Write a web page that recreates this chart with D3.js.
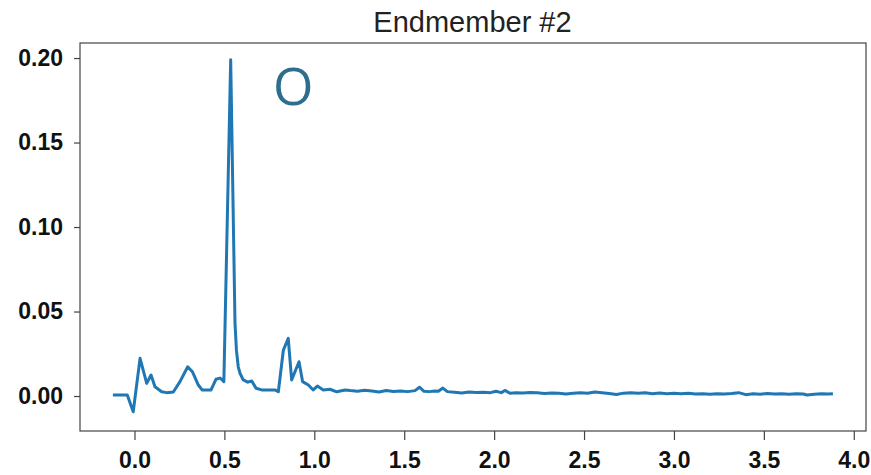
<!DOCTYPE html>
<html>
<head>
<meta charset="utf-8">
<script src="https://cdn.jsdelivr.net/npm/d3@7"></script>
<style>
  body { margin: 0; background: #fff; overflow: hidden; }
  svg { display: block; }
  .axis text { font-family: "Liberation Sans", Arial, sans-serif; font-weight: bold; font-size: 23px; fill: #111; }
  .axis path, .axis line { stroke: #444; stroke-width: 1.2px; }
</style>
</head>
<body>
<div id="chart"></div>
<script>
// spectrum (x = energy, y = intensity)
const energy = [
  -0.12, -0.04, -0.007, 0.031, 0.068, 0.092, 0.114, 0.151, 0.179, 0.216,
  0.253, 0.296, 0.322, 0.355, 0.377, 0.425, 0.453, 0.476, 0.488, 0.497,
  0.535, 0.559, 0.567, 0.577, 0.587, 0.605, 0.630, 0.652, 0.676, 0.707,
  0.781, 0.800, 0.828, 0.855, 0.874, 0.915, 0.935, 0.967, 0.994, 1.017,
  1.050, 1.087, 1.125, 1.171, 1.20, 1.24, 1.28, 1.32, 1.36, 1.40,
  1.44, 1.48, 1.52, 1.56, 1.585, 1.61, 1.64, 1.67, 1.69, 1.715,
  1.74, 1.78, 1.82, 1.86, 1.90, 1.94, 1.98, 2.01, 2.04, 2.06,
  2.09, 2.12, 2.16, 2.20, 2.24, 2.28, 2.32, 2.36, 2.40, 2.44,
  2.48, 2.52, 2.56, 2.60, 2.64, 2.68, 2.72, 2.76, 2.80, 2.84,
  2.88, 2.92, 2.96, 3.00, 3.04, 3.08, 3.12, 3.16, 3.20, 3.24,
  3.28, 3.32, 3.36, 3.40, 3.44, 3.48, 3.52, 3.56, 3.60, 3.64,
  3.68, 3.72, 3.74, 3.78, 3.82, 3.86, 3.884
]
const intensity = [
  0.0006, 0.0006, -0.0093, 0.0223, 0.0075, 0.0124, 0.0055, 0.0025, 0.0020, 0.0024,
  0.0085, 0.0173, 0.0144, 0.0065, 0.0035, 0.0035, 0.0099, 0.0106, 0.0095, 0.0085,
  0.199, 0.043, 0.027, 0.0173, 0.0134, 0.0095, 0.0082, 0.0089, 0.0046, 0.0036,
  0.0036, 0.0025, 0.0272, 0.0341, 0.0095, 0.0203, 0.0085, 0.0065, 0.0036, 0.0059,
  0.0036, 0.0040, 0.0025, 0.0036, 0.0032, 0.0028, 0.0034, 0.0030, 0.0024, 0.0033,
  0.0027, 0.0029, 0.0026, 0.0032, 0.0052, 0.0028, 0.0026, 0.0030, 0.0028, 0.0047,
  0.0026, 0.0022, 0.0018, 0.0024, 0.0021, 0.0022, 0.0020, 0.0028, 0.0020, 0.0033,
  0.0016, 0.0019, 0.0018, 0.0021, 0.0019, 0.0015, 0.0018, 0.0016, 0.0012, 0.0016,
  0.0019, 0.0016, 0.0024, 0.0020, 0.0015, 0.0009, 0.0017, 0.0020, 0.0016, 0.0019,
  0.0014, 0.0018, 0.0013, 0.0016, 0.0013, 0.0017, 0.0012, 0.0014, 0.0010, 0.0014,
  0.0012, 0.0015, 0.0020, 0.0008, 0.0013, 0.0011, 0.0015, 0.0012, 0.0014, 0.0011,
  0.0014, 0.0012, 0.0006, 0.0011, 0.0013, 0.0012, 0.0014
]
const xTicks = [0, 0.5, 1, 1.5, 2, 2.5, 3, 3.5, 4]
const yTicks = [0, 0.05, 0.10, 0.15, 0.20]
const title = 'Endmember #2'
const note = 'O'

const W = 871
const H = 475
const margin = { t: 43, r: 5, b: 44, l: 80 }
const innerWidth = W - margin.l - margin.r
const innerHeight = H - margin.t - margin.b

const points = energy.map((e, i) => ({ x: e, y: intensity[i] }))

const scaleX = d3.scaleLinear().domain([-0.303, 4.068]).range([0, innerWidth])
const scaleY = d3.scaleLinear().domain([-0.0207, 0.2089]).range([innerHeight, 0])

const svg = d3.select('#chart')
  .append('svg')
  .attr('width', W)
  .attr('height', H)

const plot = svg.append('g')
  .attr('class', 'plot')
  .attr('transform', `translate(${margin.l}, ${margin.t})`)

const axisX = d3.axisBottom(scaleX)
  .tickValues(xTicks)
  .tickSize(9)
  .tickPadding(12)
  .tickSizeOuter(0)
  .tickFormat(d3.format('.1f'))

const axisY = d3.axisLeft(scaleY)
  .tickValues(yTicks)
  .tickSize(6)
  .tickPadding(11)
  .tickSizeOuter(0)
  .tickFormat(d3.format('.2f'))

plot.append('g')
  .attr('class', 'axis axis-x')
  .attr('transform', `translate(0, ${innerHeight})`)
  .call(axisX)
  .select('.domain').remove()

plot.append('g')
  .attr('class', 'axis axis-y')
  .call(axisY)
  .select('.domain').remove()

// frame
plot.append('rect')
  .attr('width', innerWidth)
  .attr('height', innerHeight)
  .attr('fill', 'none')
  .attr('stroke', '#444')
  .attr('stroke-width', 1.2)

const line = d3.line()
  .x(d => scaleX(d.x))
  .y(d => scaleY(d.y))

plot.append('path')
  .datum(points)
  .attr('fill', 'none')
  .attr('stroke', '#1f77b4')
  .attr('stroke-width', 3)
  .attr('stroke-linejoin', 'round')
  .attr('d', line)

svg.append('text')
  .attr('x', margin.l + innerWidth / 2 - 0.5)
  .attr('y', 32)
  .attr('text-anchor', 'middle')
  .style('font-family', '"Liberation Sans", Arial, sans-serif')
  .style('font-size', '29px')
  .style('fill', '#222')
  .text(title)

svg.append('text')
  .attr('x', 273)
  .attr('y', 105)
  .style('font-family', '"Open Sans", sans-serif')
  .style('font-size', '52px')
  .style('fill', '#2c6e8c')
  .text(note)
</script>
</body>
</html>
